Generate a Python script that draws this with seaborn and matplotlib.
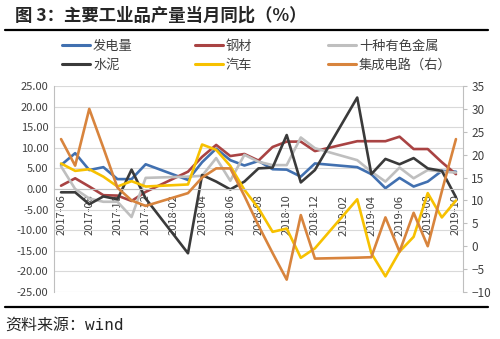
import numpy as np
import pandas as pd
import matplotlib
matplotlib.use("Agg")
import matplotlib.pyplot as plt
import seaborn as sns
from matplotlib.lines import Line2D
from matplotlib.ticker import FormatStrFormatter

nan = np.nan
months = ["2017-06", "2017-07", "2017-08", "2017-09", "2017-10", "2017-11", "2017-12",
          "2018-01", "2018-02", "2018-03", "2018-04", "2018-05", "2018-06", "2018-07",
          "2018-08", "2018-09", "2018-10", "2018-11", "2018-12", "2019-01", "2019-02",
          "2019-03", "2019-04", "2019-05", "2019-06", "2019-07", "2019-08", "2019-09",
          "2019-10"]
power = [5.8, 8.7, 4.6, 5.3, 2.4, 2.4, 6.0, nan, nan, 2.2, 6.5, 9.8, 7.0, 5.7, 6.8,
         4.8, 4.7, 3.0, 6.2, nan, nan, 5.3, 3.6, 0.2, 2.7, 0.6, 1.8, 4.4, 4.2]
steel = [0.8, 2.6, 0.6, -1.5, -1.6, -2.9, -0.7, nan, nan, 4.2, 7.8, 10.7, 8.0, 8.5, 6.9,
         10.2, 11.5, 11.5, 9.2, nan, nan, 11.6, 11.6, 11.6, 12.7, 9.7, 9.7, 6.5, 3.6]
metals = [5.5, 0.0, -2.3, -3.1, -3.1, -6.8, 2.7, nan, nan, 3.0, 3.2, 7.5, 2.0, 8.3, 6.6,
          5.8, 5.8, 12.5, 9.9, nan, nan, 7.0, 4.2, 1.8, 5.2, 2.6, 4.6, 4.2, 4.0]
cement = [-0.8, -0.8, -3.7, -1.8, -2.5, 4.7, -2.3, nan, nan, -15.6, 3.4, 1.8, -0.1, 1.8,
          5.0, 5.2, 13.1, 1.6, 4.6, nan, nan, 22.2, 3.6, 7.3, 6.0, 7.5, 5.0, 4.4, -2.0]
autos = [6.2, 4.4, 4.8, 3.0, 0.6, 1.9, 0.6, nan, nan, 1.1, 10.8, 9.5, 5.6, -0.2, -4.7,
         -10.4, -9.6, -16.7, -14.4, nan, nan, -2.5, -15.6, -21.2, -15.2, -11.6, -1.0,
         -6.9, -2.8]
ic_chips = [23.4, 17.6, 30.0, 21.5, 12.8, 10.0, 8.8, nan, nan, 11.6, 15.0, 17.0, 17.0,
            11.0, 4.5, -1.5, -7.3, 6.8, -2.7, nan, nan, -2.5, -2.4, 6.3, -1.2, 7.3, 0.0,
            12.0, 23.4]

left_names = ["发电量", "钢材", "十种有色金属", "水泥", "汽车"]
right_name = "集成电路（右）"
colors = {"发电量": "#4170B0", "钢材": "#A94343", "十种有色金属": "#BFBFBF",
          "水泥": "#3A3A3A", "汽车": "#F7C100", right_name: "#D8843D"}

sns.set_style("white")
plt.rcParams['font.family'] = ['Noto Sans CJK SC', 'DejaVu Sans']

df = pd.DataFrame({"idx": np.arange(len(months)), "月份": months,
                   "发电量": power, "钢材": steel, "十种有色金属": metals,
                   "水泥": cement, "汽车": autos, right_name: ic_chips})
long_left = df.melt(id_vars=["idx", "月份"], value_vars=left_names,
                    var_name="series", value_name="value")

fig = plt.figure(figsize=(5, 3.39), dpi=100)
ax = fig.add_axes([54 / 500, 1 - 292 / 339, (463 - 54) / 500, (292 - 86) / 339])
lw = 1.9
sns.lineplot(data=long_left, x="idx", y="value", hue="series", hue_order=left_names,
             palette=colors, ax=ax, legend=False, linewidth=lw, estimator=None)
ax2 = ax.twinx()
sns.lineplot(data=df, x="idx", y=right_name, color=colors[right_name], ax=ax2,
             linewidth=lw, estimator=None)

tick_color = "#404040"
axis_gray = "#BFBFBF"

ax.set_xlim(-0.5, len(months) - 0.5)
ax.set_ylim(-25, 25)
ax.set_yticks(np.arange(-25, 26, 5))
ax.yaxis.set_major_formatter(FormatStrFormatter("%.2f"))
ax.grid(axis="y", color="#D9D9D9", linewidth=0.8)
ax.grid(axis="x", visible=False)
ax.set_xticks(np.arange(0, len(months), 2))
ax.set_xticklabels(months[::2])
ax.set_xticks(np.arange(-0.5, len(months), 2), minor=True)
ax.tick_params(axis="x", which="major", length=0, pad=4, labelsize=8,
               labelcolor=tick_color, labelrotation=90)
ax.tick_params(axis="x", which="minor", length=3, color=axis_gray, width=0.8, direction="out")
ax.tick_params(axis="y", length=0, pad=4, labelsize=8, labelcolor=tick_color)
ax.spines["bottom"].set_position(("data", 0))
ax.spines["bottom"].set_color(axis_gray)
ax.spines["bottom"].set_linewidth(0.8)
ax.spines["left"].set_color(axis_gray)
ax.spines["left"].set_linewidth(0.8)
ax.spines["top"].set_visible(False)
ax.spines["right"].set_visible(False)
ax.set_xlabel("")
ax.set_ylabel("")

ax2.set_ylim(-10, 35)
ax2.set_yticks(np.arange(-10, 36, 5))
ax2.tick_params(axis="y", length=3, width=0.8, color=axis_gray, pad=3, labelsize=8.5,
                labelcolor=tick_color)
for s in ["top", "left", "bottom"]:
    ax2.spines[s].set_visible(False)
ax2.spines["right"].set_color(axis_gray)
ax2.spines["right"].set_linewidth(0.8)
ax2.set_ylabel("")
ax2.grid(False)

# legend in three columns
cols = [["发电量", "水泥"], ["钢材", "汽车"], ["十种有色金属", right_name]]
xs = [62 / 500, 195 / 500, 328 / 500]
for names, x0 in zip(cols, xs):
    handles = [Line2D([0], [0], color=colors[n], linewidth=2.2) for n in names]
    fig.legend(handles, names, loc="upper left", bbox_to_anchor=(x0, 1 - 40 / 339),
               frameon=False, fontsize=9.5, handlelength=2.1, handletextpad=0.25,
               borderpad=0, borderaxespad=0, labelspacing=0.45, labelcolor="#404040")

fig.text(15 / 500, 1 - 16 / 339, "图 3：主要工业品产量当月同比（%）", fontsize=12.5,
         fontweight="bold", va="center", ha="left", color="#262626")
fig.add_artist(Line2D([5 / 500, 488 / 500], [1 - 30 / 339] * 2, color="black",
                      linewidth=1.6, transform=fig.transFigure))
fig.add_artist(Line2D([5 / 500, 488 / 500], [1 - 307 / 339] * 2, color="black",
                      linewidth=1.6, transform=fig.transFigure))
fig.text(5 / 500, 1 - 325 / 339, "资料来源：wind", fontsize=11.5, va="center", ha="left",
         color="#262626", family=["DejaVu Sans Mono", "Noto Sans CJK SC"])

fig.savefig("out.png", dpi=100)
